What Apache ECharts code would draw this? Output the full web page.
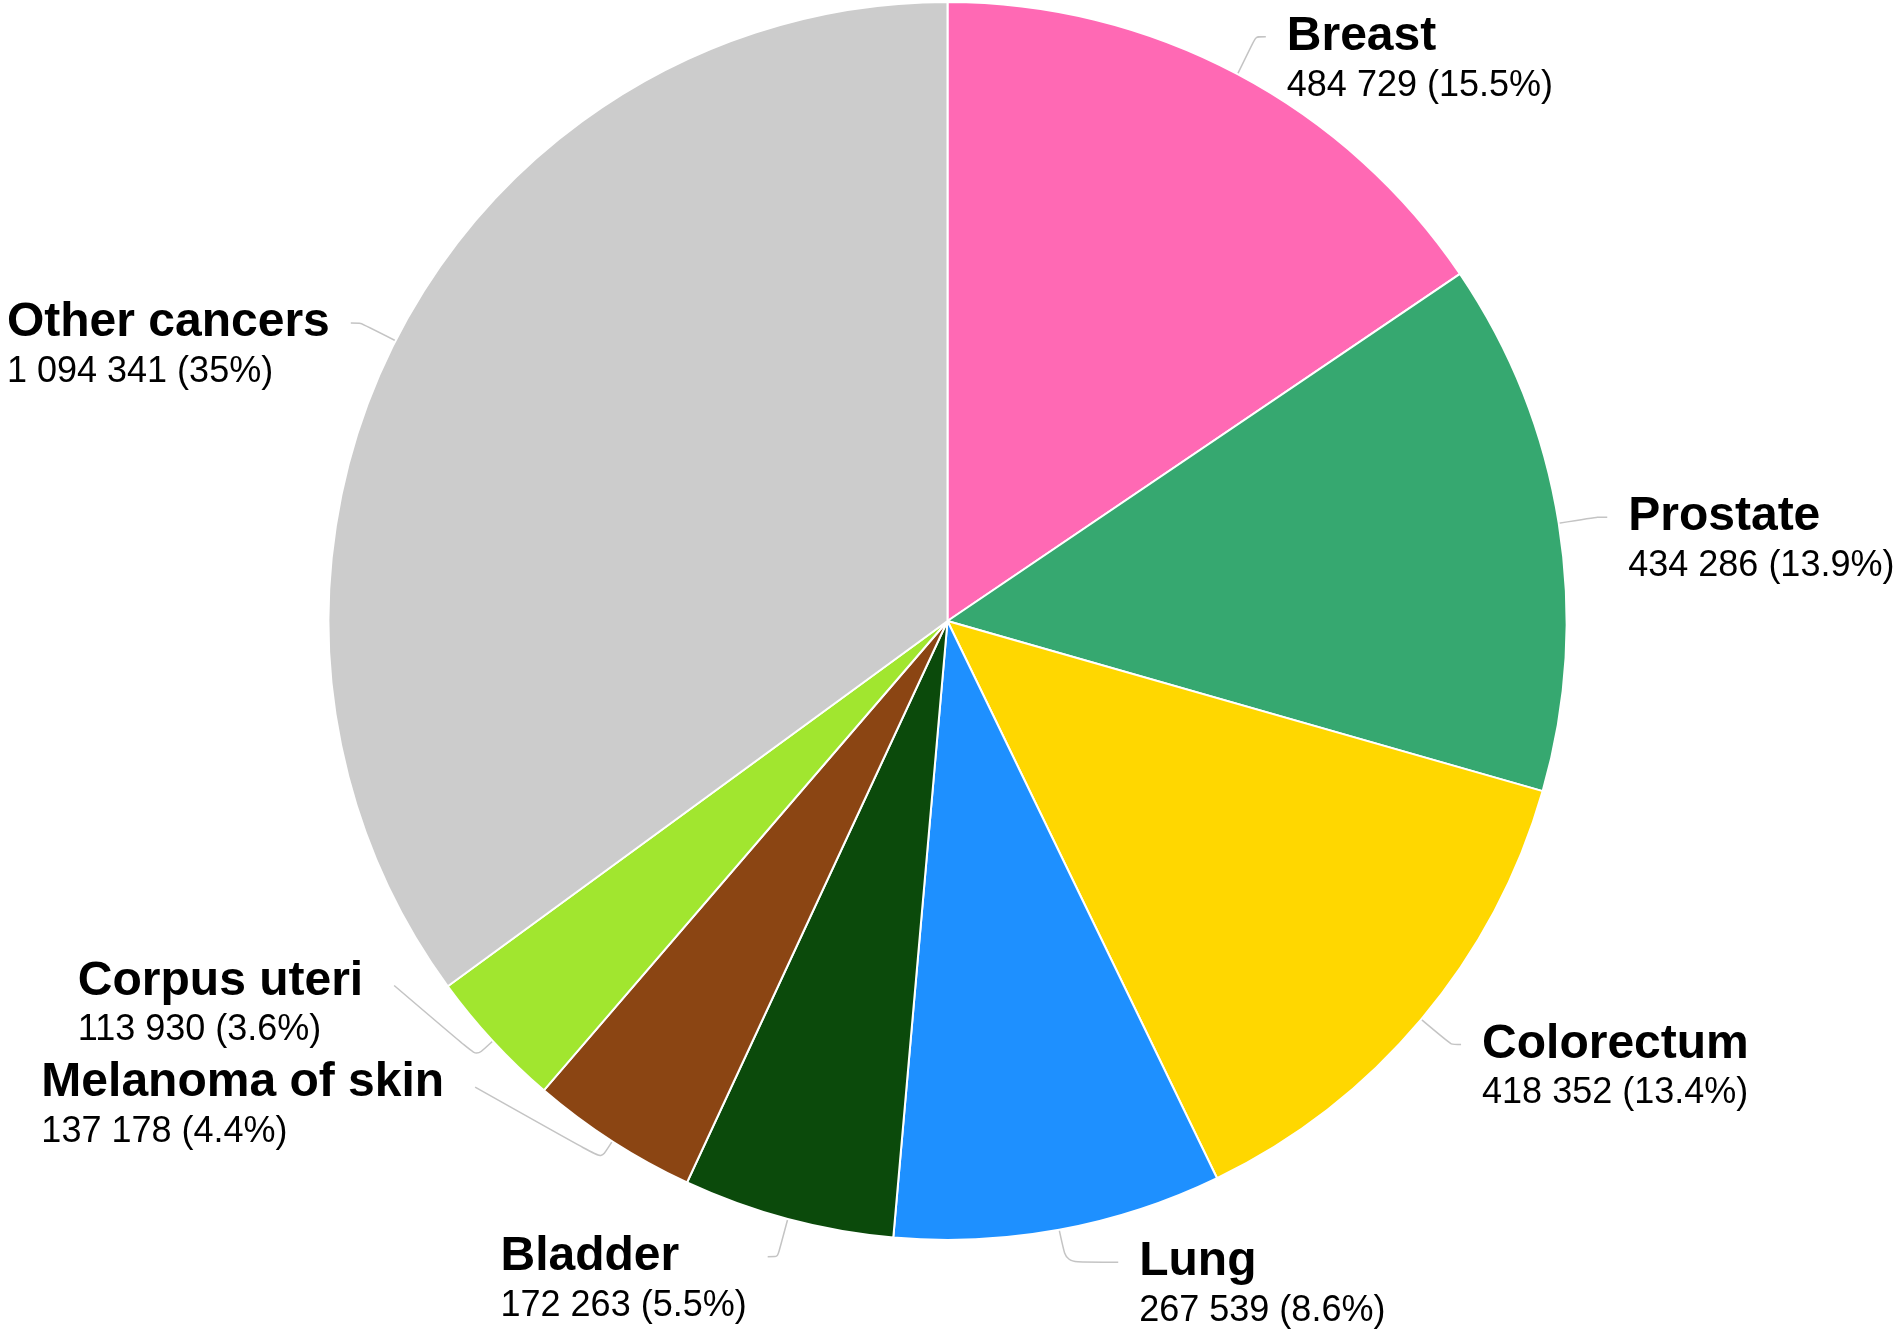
<!DOCTYPE html>
<html>
<head>
<meta charset="utf-8">
<script src="https://cdn.jsdelivr.net/npm/echarts@6/dist/echarts.min.js"></script>
<style>
html,body{margin:0;padding:0;background:#fff;}
#chart{width:1895px;height:1331px;}
</style>
</head>
<body>
<div id="chart"></div>
<script>
const categories = ['Breast', 'Prostate', 'Colorectum', 'Lung', 'Bladder', 'Melanoma of skin', 'Corpus uteri', 'Other cancers'];
const values = [484729, 434286, 418352, 267539, 172263, 137178, 113930, 1094341];
const colors = ['#FF69B4', '#36A870', '#FFD700', '#1E90FF', '#0B4A0B', '#8B4513', '#A1E62F', '#CCCCCC'];

// label placement tweaks (offsets from the library's natural label-line end)
const labelAdjust = {
  'Breast': {dx: 0, dy: -3, first: null},
  'Lung': {dx: 42, dy: -6, first: null},
  'Melanoma of skin': {dx: -116, dy: -91, first: 20},
  'Corpus uteri': {dx: -70, dy: -86, first: 22}
};
const LINE_LEN = 39, LINE_LEN2 = 10, TEXT_GAP = 21, FIRST_LINE_SHIFT = 23;

const total = values.reduce((a, b) => a + b, 0);
function fmtNum(v) { return String(v).replace(/\B(?=(\d{3})+(?!\d))/g, ' '); }
function fmtPct(v) { return String(parseFloat((v / total * 100).toFixed(1))); }

const chart = echarts.init(document.getElementById('chart'), null, {renderer: 'canvas'});
chart.setOption({
  animation: false,
  backgroundColor: '#ffffff',
  series: [{
    type: 'pie',
    center: [947.5, 621],
    radius: 619,
    startAngle: 90,
    clockwise: true,
    avoidLabelOverlap: false,
    data: categories.map((c, i) => ({name: c, value: values[i], itemStyle: {color: colors[i]}})),
    itemStyle: {borderColor: '#ffffff', borderWidth: 2},
    label: {
      show: true,
      position: 'outer',
      alignTo: 'none',
      overflow: 'none',
      bleedMargin: -200,
      distanceToLabelLine: TEXT_GAP,
      fontFamily: 'Liberation Sans',
      color: '#000',
      formatter: p => '{n|' + p.name + '}\n{v|' + fmtNum(p.value) + ' (' + fmtPct(p.value) + '%)}',
      rich: {
        n: {fontFamily: 'Liberation Sans', fontSize: 48, fontWeight: 'bold', color: '#000', lineHeight: 52, align: 'left'},
        v: {fontFamily: 'Liberation Sans', fontSize: 36, color: '#000', lineHeight: 46, align: 'left'}
      }
    },
    labelLine: {
      show: true,
      length: LINE_LEN,
      length2: LINE_LEN2,
      smooth: 0.2,
      lineStyle: {color: '#C4C4C4', width: 1.5}
    },
    labelLayout: function (params) {
      const pts = params.labelLinePoints;
      if (!pts || pts.length < 3) return {};
      const name = categories[params.dataIndex];
      const adj = labelAdjust[name];
      const p0 = pts[0].slice(), p1 = pts[1].slice(), p2 = pts[2].slice();
      const dir = p2[0] < p1[0] ? -1 : 1;
      let points;
      let end;
      if (!adj) {
        points = [p0, p1, p2];
        end = p2;
      } else if (adj.first == null) {
        const q1 = [p1[0], p1[1] + adj.dy];
        end = [p2[0] + adj.dx, p2[1] + adj.dy];
        points = [p0, q1, end];
      } else {
        const f = adj.first / LINE_LEN;
        const q1 = [p0[0] + (p1[0] - p0[0]) * f, p0[1] + (p1[1] - p0[1]) * f];
        end = [p2[0] + adj.dx, p2[1] + adj.dy];
        const q2 = [end[0] - dir * 10, end[1] + 4];
        points = [p0, q1, q2, end];
      }
      return {
        x: end[0] + dir * TEXT_GAP,
        y: end[1] + FIRST_LINE_SHIFT,
        align: dir > 0 ? 'left' : 'right',
        verticalAlign: 'middle',
        labelLinePoints: points
      };
    }
  }]
});
</script>
</body>
</html>
